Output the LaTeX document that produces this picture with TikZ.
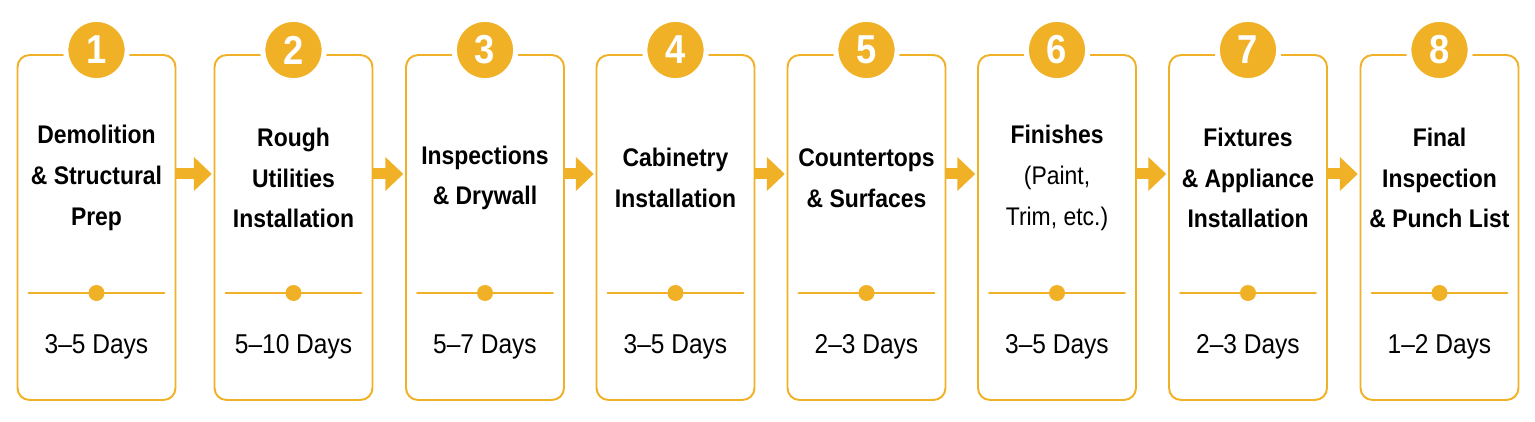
\documentclass[tikz,border=0pt]{standalone}
\usepackage{fontspec}
\setmainfont[FakeStretch=0.9]{Liberation Sans}
\usetikzlibrary{arrows.meta,calc}
\definecolor{gold}{RGB}{240,177,38}
\tikzset{
	stage/.style={draw=gold,line width=1.1pt,rounded corners=0.24cm,minimum width=3.16cm,minimum height=6.9cm,inner sep=0pt},
	badge/.style={circle,fill=gold,draw=white,line width=3pt,minimum size=1.23cm,inner sep=0pt,text=white,font=\fontsize{23}{23}\selectfont\bfseries},
	title/.style={align=center,font=\fontsize{14.5}{23.2}\selectfont\bfseries},
	days/.style={font=\fontsize{15.5}{16}\selectfont},
	dot/.style={circle,fill=gold,minimum size=0.32cm,inner sep=0pt},
	flow/.style={draw=gold,line width=0.22cm,line cap=butt,-{Triangle[length=0.36cm,width=0.66cm]},shorten >=1pt}
}
\begin{document}
\begin{tikzpicture}[x=0.02cm,y=-0.02cm,line join=round,line cap=round]
	\def\half{68}
	\useasboundingbox (0,0) rectangle (1535,422);
	\fill[white] (0,0) rectangle (1535,422);
	\path (0,174) coordinate (mid);
	\foreach \i/\cx/\t/\d in {
		1/96.5/{Demolition\\\& Structural\\Prep}/3–5 Days,
		2/293.5/{Rough\\Utilities\\Installation}/5–10 Days,
		3/485/{Inspections\\\& Drywall}/5–7 Days,
		4/675.5/{Cabinetry\\Installation}/3–5 Days,
		5/866.5/{Countertops\\\& Surfaces}/2–3 Days,
		6/1057/{Finishes\\\mdseries(Paint,\\\mdseries Trim, etc.)}/3–5 Days,
		7/1248/{Fixtures\\\& Appliance\\Installation}/2–3 Days,
		8/1439.5/{Final\\Inspection\\\& Punch List}/1–2 Days}{
		\node[stage] (box\i) at (\cx,227.5) {};
		\node[badge] (num\i) at (\cx,50) {\i};
		\node[title] (name\i) at (\cx,178) {\t};
		\draw[gold,line width=0.9pt] (\cx,293) ++(-\half,0) -- ++(2*\half,0);
		\node[dot] (dot\i) at (\cx,293) {};
		\node[days] (time\i) at (\cx,347) {\d};
	}
	% arrows between the stages
	\foreach \i [evaluate=\i as \j using int(\i+1)] in {1,...,7}
		\draw[flow] (box\i.east |- mid) -- (box\j.west |- mid);
\end{tikzpicture}
\end{document}
